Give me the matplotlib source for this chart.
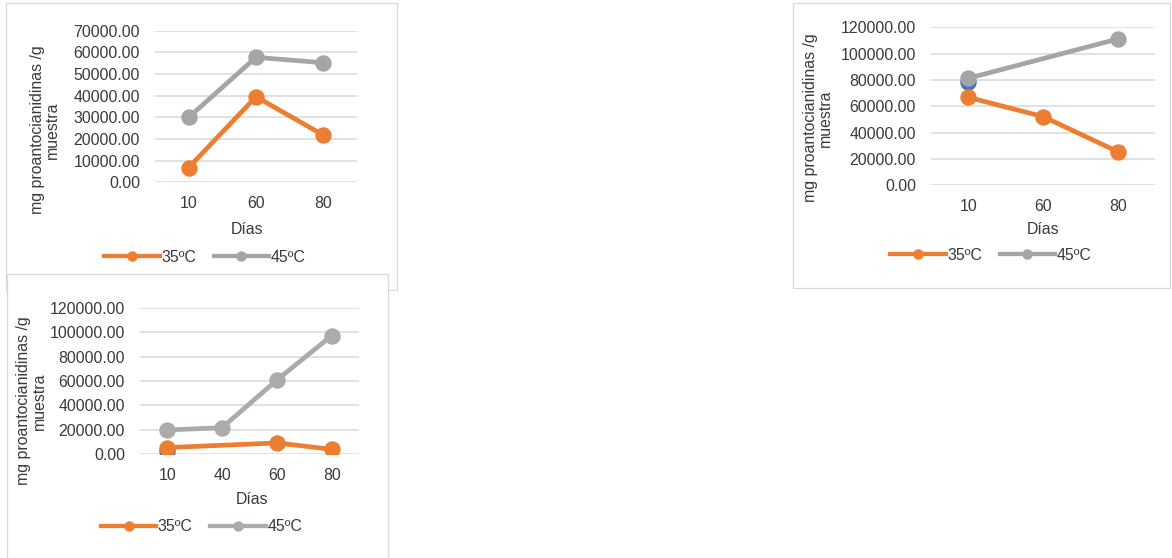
import numpy as np
import matplotlib
matplotlib.use("Agg")
import matplotlib.pyplot as plt
from matplotlib.lines import Line2D
from matplotlib.patches import Rectangle
from matplotlib.ticker import FormatStrFormatter

plt.rcParams['font.family'] = ['Liberation Sans', 'DejaVu Sans']

# ---- data -------------------------------------------------------------
days_a = ["10", "60", "80"]
a_35 = [6800, 39500, 21800]
a_45 = [30000, 57700, 55200]

days_b = ["10", "60", "80"]
b_35 = [66800, 52200, 25600]
b_45 = [81300, np.nan, 111100]
b_extra = [78700, np.nan, np.nan]

days_c = ["10", "40", "60", "80"]
c_35 = [5500, np.nan, 9300, 4100]
c_45 = [19900, 21800, 60800, 97100]
c_extra = [3000, np.nan, np.nan, np.nan]

series_labels = ["35ºC", "45ºC"]
y_label = "mg proantocianidinas /g\nmuestra"
x_label = "Días"

# ---- style ------------------------------------------------------------
ORANGE = "#ED7D31"
GRAY = "#A5A5A5"
GRAY_C = "#AEAAAA"
BLUE = "#4472C4"
GRID = "#D9D9D9"
TXT = "#3A3A3A"
FS = 11.4
LW = 3.4
MS = 10.8

W, H = 1172, 558
fig = plt.figure(figsize=(W / 100, H / 100), dpi=100)


def fx(x):
    return x / W


def fy(y):
    return 1 - y / H


def frame(left, top, right, bottom, z):
    fig.add_artist(Rectangle((fx(left), fy(bottom)), fx(right - left), (bottom - top) / H,
                             transform=fig.transFigure, facecolor="white",
                             edgecolor=GRID, lw=0.9, zorder=z))


def connected(ax, vals, color, z):
    x = np.arange(len(vals))
    v = np.asarray(vals, dtype=float)
    m = ~np.isnan(v)
    ax.plot(x[m], v[m], color=color, lw=LW, marker="o", ms=MS,
            solid_capstyle="round", zorder=z)


def chart(box, cats, s35, s45, ymax, step, gray, extra=None,
          ylab_xy=None, xlab_xy=None, leg_xy=None):
    left, top, right, bottom = box
    ax = fig.add_axes([fx(left), fy(bottom), fx(right - left), (bottom - top) / H])
    ax.patch.set_visible(False)
    for s in ax.spines.values():
        s.set_visible(False)
    ax.set_xlim(-0.5, len(cats) - 0.5)
    ax.set_ylim(0, ymax)
    ax.set_yticks(np.arange(0, ymax + 1, step))
    ax.yaxis.set_major_formatter(FormatStrFormatter("%.2f"))
    ax.set_xticks(np.arange(len(cats)))
    ax.set_xticklabels(cats)
    ax.tick_params(axis="both", length=0, labelsize=FS, labelcolor=TXT)
    ax.tick_params(axis="y", pad=10.8)
    ax.tick_params(axis="x", pad=10)
    ax.yaxis.grid(True, color=GRID, lw=1.1)
    ax.set_axisbelow(True)
    if extra is not None:
        connected(ax, extra, BLUE, 2)
    connected(ax, s35, ORANGE, 3)
    connected(ax, s45, gray, 4)

    fig.text(fx(ylab_xy[0]), fy(ylab_xy[1]), y_label, rotation=90, ha="center",
             va="center", multialignment="center", linespacing=1.05,
             fontsize=FS, color=TXT)
    fig.text(fx(xlab_xy[0]), fy(xlab_xy[1]), x_label, ha="center", va="center",
             fontsize=FS, color=TXT)
    handles = [Line2D([], [], color=ORANGE, lw=LW * 0.9, marker="o", ms=6.5),
               Line2D([], [], color=gray, lw=LW * 0.9, marker="o", ms=6.5)]
    ax.legend(handles, series_labels, loc="center",
              bbox_to_anchor=(fx(leg_xy[0]), fy(leg_xy[1])),
              bbox_transform=fig.transFigure, ncol=2, frameon=False,
              numpoints=1, handlelength=3.5, handletextpad=0.1,
              columnspacing=1.1, borderpad=0, borderaxespad=0,
              fontsize=FS, labelcolor=TXT)
    return ax


# chart frames (the lower-left chart overlaps the upper-left one)
frame(5.7, 3.3, 396.7, 290, -3)
frame(793.3, 3.3, 1170, 288, -3)
frame(7.3, 274.3, 388.3, 575, -2)

chart((155, 30.7, 357, 182.3), days_a, a_35, a_45, 70000, 10000, GRAY,
      ylab_xy=(45, 130), xlab_xy=(247.5, 229.5), leg_xy=(205, 257))
chart((931, 27.3, 1155, 185.3), days_b, b_35, b_45, 120000, 20000, GRAY,
      extra=b_extra, ylab_xy=(818, 118), xlab_xy=(1043.3, 229.3),
      leg_xy=(991, 255.3))
chart((140, 307.7, 359, 454.3), days_c, c_35, c_45, 120000, 20000, GRAY_C,
      extra=c_extra, ylab_xy=(31.7, 401), xlab_xy=(251.7, 500),
      leg_xy=(201.5, 526.7))

fig.savefig("out.png", dpi=100, facecolor="white")
